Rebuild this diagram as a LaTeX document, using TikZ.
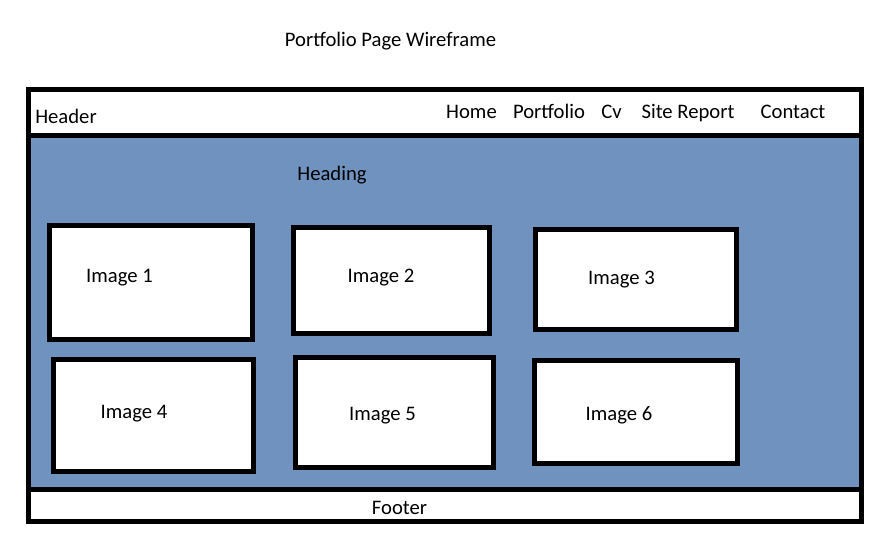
\documentclass[tikz,border=0pt]{standalone}
\usepackage{fontspec}
\setmainfont{Carlito}
\definecolor{pageblue}{RGB}{111,146,191}
\begin{document}
\begin{tikzpicture}[x=0.75pt,y=-0.75pt,
  frame/.style={draw=black,line width=3.75pt,line join=miter},
  imgbox/.style={frame,fill=white},
  txt/.style={anchor=base,inner sep=0pt,font=\fontsize{15.5}{18}\selectfont,text=black}]
\useasboundingbox (0,0) rectangle (880,559);
\fill[white] (0,0) rectangle (880,559);

% page frame: header strip, blue body, footer strip
\fill[pageblue] (28.5,135.5) rectangle (861.5,489.5);
\draw[frame] (28.5,89.5) rectangle (861.5,521.5);
\coordinate (hl) at (28.5,135.5);
\coordinate (hr) at (861.5,135.5);
\coordinate (fl) at (28.5,489.5);
\coordinate (fr) at (861.5,489.5);
\draw[frame] (hl) -- (hr);
\draw[frame] (fl) -- (fr);

% image placeholders
\draw[imgbox] (49.5,225.5) rectangle (252.5,339.5);
\draw[imgbox] (293.5,227.5) rectangle (489.5,333.5);
\draw[imgbox] (535.5,229.5) rectangle (736.5,329.5);
\draw[imgbox] (53.5,359.5) rectangle (253.5,471.5);
\draw[imgbox] (295.5,357.5) rectangle (493.5,467.5);
\draw[imgbox] (534.5,360.5) rectangle (737.5,463.5);

% labels
\node[txt] (title) at (390.5,47) {Portfolio Page Wireframe};
\node[txt] (header) at (66,124) {Header};
\node[txt] (home) at (471.5,119) {Home};
\node[txt] (portfolio) at (549,119) {Portfolio};
\node[txt] (cv) at (611.5,119) {Cv};
\node[txt] (report) at (688,119) {Site Report};
\node[txt] (contact) at (793,119) {Contact};
\node[txt] (heading) at (332,181) {Heading};
\node[txt] (img1) at (119.5,282) {Image 1};
\node[txt] (img2) at (381,282) {Image 2};
\node[txt] (img3) at (621.5,284) {Image 3};
\node[txt] (img4) at (134,418) {Image 4};
\node[txt] (img5) at (382.5,420) {Image 5};
\node[txt] (img6) at (619,420) {Image 6};
\node[txt] (footer) at (399.5,514) {Footer};
\end{tikzpicture}
\end{document}
